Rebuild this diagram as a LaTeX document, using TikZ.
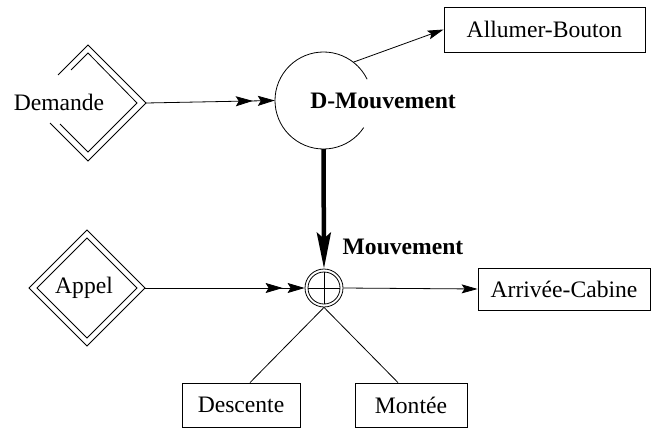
\documentclass[tikz,border=0pt]{standalone}
\usepackage{fontspec}
\setmainfont{Liberation Serif}
\usetikzlibrary{arrows.meta,calc}
\begin{document}
\begin{tikzpicture}[x=1pt,y=-1pt,
  thin line/.style={line width=0.8pt},
  boxnode/.style={draw,thin line,inner sep=0pt,font=\fontsize{23.6}{28}\selectfont},
  txt/.style={inner sep=0pt,font=\fontsize{23.6}{28}\selectfont},
  btxt/.style={inner sep=0pt,font=\fontsize{23.6}{28}\selectfont\bfseries},
  dbl/.style={thin line,-{Stealth[length=17pt,width=10pt,inset=3pt,sep=5pt]Stealth[length=17pt,width=10pt,inset=3pt]}},
  sgl/.style={thin line,-{Stealth[length=16pt,width=9pt,inset=3pt]}},
  thick arrow/.style={line width=4.5pt,-{Stealth[length=36pt,width=14pt,inset=6pt]}}
]
\useasboundingbox (0,0) rectangle (652,428);
\fill[white] (0,0) rectangle (652,428);

% Demande (open double diamond)
\node[txt] (demande) at (59,102) {Demande};
\coordinate (demR) at (146,103);
\draw[thin line] (58,75) -- (88,45) -- (146,103) -- (88,161) -- (50,123);
\draw[thin line] (71,70) -- (88,53) -- (137,103) -- (88,152) -- (60,124);

% D-Mouvement (open circle)
\node[circle,minimum size=97pt,inner sep=0pt] (dm) at (323.5,100.5) {};
\draw[thin line] (dm.center) ++(34:48.5) arc[start angle=34,end angle=334,radius=48.5];
\node[btxt] (dmtext) at (383,101) {D-Mouvement};

% Allumer-Bouton
\node[boxnode,minimum width=201pt,minimum height=45pt] (allumer) at (544.5,29.5) {Allumer-Bouton};

% Appel (double diamond)
\node[txt] (appel) at (84,288) {Appel};
\coordinate (appR) at (145,288);
\draw[thin line] (87,230) -- (145,288) -- (87,346) -- (29,288) -- cycle;
\draw[thin line] (87,238) -- (137,288) -- (87,338) -- (37,288) -- cycle;

% oplus
\node[circle,draw,thin line,minimum size=38pt,inner sep=0pt] (op) at (324,288) {};
\draw[thin line] (op.center) circle[radius=16];
\draw[thin line] ($(op.center)+(-16,0)$) -- ($(op.center)+(16,0)$);
\draw[thin line] ($(op.center)+(0,-16)$) -- ($(op.center)+(0,16)$);
\node[btxt] (mvt) at (403,247) {Mouvement};

% Arrivee-Cabine
\node[boxnode,minimum width=172pt,minimum height=42pt] (arrivee) at (564,289) {Arrivée-Cabine};

% Descente, Montee
\node[boxnode,minimum width=118pt,minimum height=44pt] (desc) at (241,405) {Descente};
\node[boxnode,minimum width=112pt,minimum height=44pt] (mont) at (411,405) {Montée};

% connectors
\draw[dbl] (demR) -- (dm.west);
\draw[sgl] (dm.52) -- (allumer.west);
\draw[thick arrow] (dm.south) -- (op.north);
\draw[dbl] (appR) -- (op.west);
\draw[sgl] (op.east) -- (arrivee.west);
\draw[thin line] (op.south) -- ([xshift=9pt]desc.north);
\draw[thin line] (op.south) -- ([xshift=-13pt]mont.north);
\end{tikzpicture}
\end{document}
